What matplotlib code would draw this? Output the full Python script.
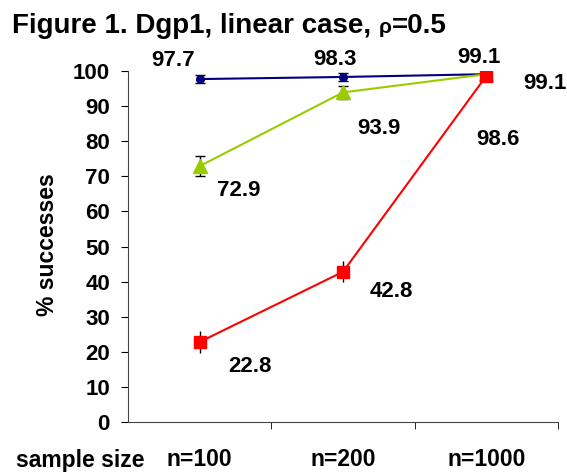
import matplotlib
matplotlib.use("Agg")
import matplotlib.pyplot as plt
import numpy as np

categories = ["n=100", "n=200", "n=1000"]
blue_vals = [97.7, 98.3, 99.1]
green_vals = [72.9, 93.9, 99.1]
red_vals = [22.8, 42.8, 98.6]
blue_err = [1.2, 1.2, 0.5]
green_err = [2.9, 1.8, 0.5]
red_err = [3.0, 3.0, 0.5]
yticks = list(range(0, 101, 10))

plt.rcParams['font.family'] = ['Liberation Sans', 'DejaVu Sans']
plt.rcParams['font.weight'] = 'bold'

W, H = 567, 475
fig = plt.figure(figsize=(W/100, H/100), dpi=100)
L, R, T, B = 128, 558, 71, 422
ax = fig.add_axes([L/W, 1-B/H, (R-L)/W, (B-T)/H])

x = np.arange(len(categories))
ax.errorbar(x, blue_vals, yerr=blue_err, color='#000080', marker='o', ms=5.5, lw=1.5,
            ecolor='black', elinewidth=1, capsize=3.6, zorder=3)
ax.errorbar(x, green_vals, yerr=green_err, color='#99cc00', marker='^', ms=10, lw=1.5,
            ecolor='black', elinewidth=1, capsize=3.6, zorder=4)
ax.errorbar(x, red_vals, yerr=red_err, color='#ff0000', marker='s', ms=8, lw=1.5,
            ecolor='black', elinewidth=1, capsize=0, zorder=5)

ax.set_xlim(-0.5, 2.5)
ax.set_ylim(0, 100)
ax.set_yticks(yticks)
ax.set_yticklabels([str(t) for t in yticks], fontsize=16, fontweight='bold')
ax.set_xticks(x)
ax.set_xticklabels(categories, fontsize=16.5, fontweight='bold')
ax.tick_params(axis='x', which='major', length=0, pad=19)
ax.set_xticks([0.5, 1.5, 2.5], minor=True)
ax.tick_params(axis='x', which='minor', length=5, direction='out')
ax.tick_params(axis='y', length=5, direction='out', pad=8)
for s in ['top', 'right']:
    ax.spines[s].set_visible(False)
for s in ['left', 'bottom']:
    ax.spines[s].set_linewidth(0.8)
    ax.spines[s].set_color('#444444')

fig.text(47/W, 1-245/H, '% successes', fontsize=16.5, fontweight='bold',
         rotation=90, ha='center', va='center')

fs = 16
def lab(xi, v, txt, dx, dy):
    ax.annotate(txt, (xi, v), xytext=(dx, dy), textcoords='offset pixels',
                ha='center', va='center', fontsize=fs, fontweight='bold')

lab(0, blue_vals[0], "97.7", -27, 19)
lab(1, blue_vals[1], "98.3", -8, 17)
lab(2, blue_vals[2], "99.1", -7, 17)
lab(2, green_vals[2], "99.1", 59, -9)
lab(1, green_vals[1], "93.9", 36, -36)
lab(0, green_vals[0], "72.9", 39, -24)
lab(2, red_vals[2], "98.6", 12, -64)
lab(1, red_vals[1], "42.8", 48, -20)
lab(0, red_vals[0], "22.8", 50, -25)

fig.text(16/W, 1-460/H, "sample size", fontsize=16.5, fontweight='bold', ha='left', va='center')

# title pieces
t1 = fig.text(12/W, 1-33/H, "Figure 1. Dgp1, linear case, ", fontsize=20,
              fontweight='bold', ha='left', va='baseline')
fig.canvas.draw()
r = fig.canvas.get_renderer()
bb = t1.get_window_extent(r)
t2 = fig.text(bb.x1/W, 1-33/H, "ρ", fontsize=15, fontweight='bold', ha='left', va='baseline')
bb2 = t2.get_window_extent(r)
fig.text(bb2.x1/W, 1-33/H, "=0.5", fontsize=20, fontweight='bold', ha='left', va='baseline')

fig.savefig("out.png", dpi=100)
